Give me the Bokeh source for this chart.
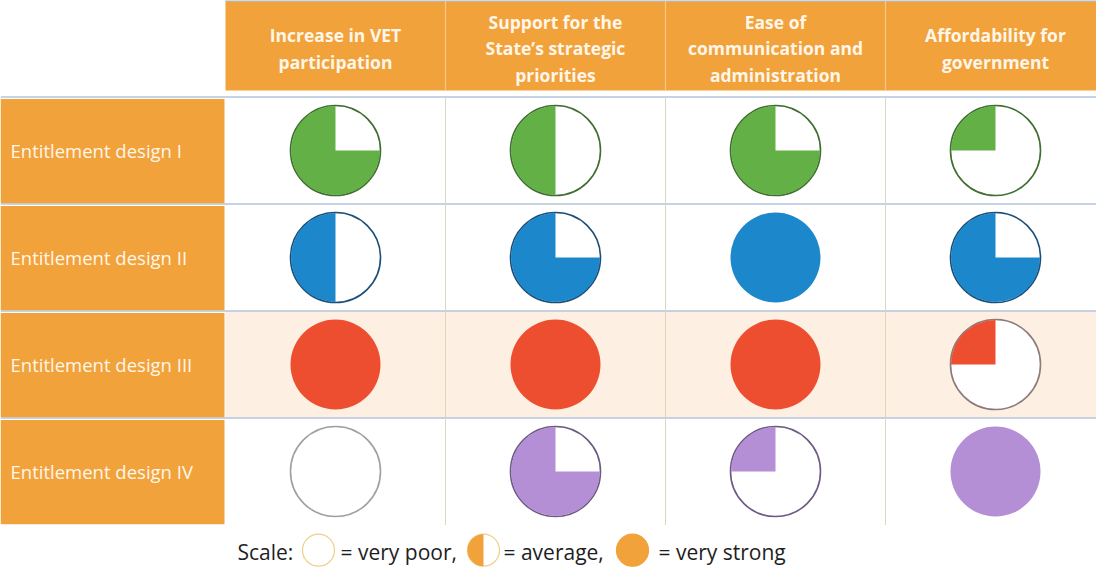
import math
from bokeh.plotting import figure
from bokeh.models import Range1d, ColumnDataSource
from bokeh.embed import file_html
from bokeh.resources import INLINE
from bokeh.core.properties import value

# ---------------- data ----------------
criteria = [
    "Increase in VET\nparticipation",
    "Support for the\nState\u2019s strategic\npriorities",
    "Ease of\ncommunication and\nadministration",
    "Affordability for\ngovernment",
]
designs = [
    "Entitlement design I",
    "Entitlement design II",
    "Entitlement design III",
    "Entitlement design IV",
]
scores_I = [0.75, 0.5, 0.75, 0.25]
scores_II = [0.5, 0.75, 1.0, 0.75]
scores_III = [1.0, 1.0, 1.0, 0.25]
scores_IV = [0.0, 0.75, 0.25, 1.0]
scores = [scores_I, scores_II, scores_III, scores_IV]

row_colors = ["#62b046", "#1d87cb", "#ee4e30", "#b48fd5"]
outline_colors = ["#3f6e30", "#1c4f78", "#8e7a7a", "#6d5a82"]

scale_levels = [0.0, 0.5, 1.0]
scale_labels = ["= very poor,", "= average,", "= very strong"]

ORANGE = "#f2a23a"
TEXT_LIGHT = "#fff6ea"
FONT = "Open Sans"

# ---------------- figure ----------------
W, H = 1096, 570
p = figure(width=W, height=H, output_backend="svg", toolbar_location=None,
           x_range=Range1d(-1.5227, 3.4591), y_range=Range1d(3.9252, -1.4019),
           min_border=0, background_fill_color="white", border_fill_color="white")
p.axis.visible = False
p.grid.visible = False
p.outline_line_color = None

ncol = len(criteria)
nrow = len(designs)
cols = list(range(ncol))
rows = list(range(nrow))

# highlighted row background (design III)
p.rect(x=[(ncol - 1) / 2], y=[2], width=[ncol], height=[1.0],
       fill_color="#fdf0e3", line_color=None)

# header band
p.quad(left=[-0.5], right=[ncol - 0.5], top=[-1.402], bottom=[-0.561],
       fill_color=ORANGE, line_color=None)
p.segment(x0=[-0.5], y0=[-1.398], x1=[ncol - 0.5], y1=[-1.398],
          line_color="#aabbd2", line_width=1.5)
# header separators
p.segment(x0=[c + 0.5 for c in cols[:-1]], y0=[-1.40] * (ncol - 1),
          x1=[c + 0.5 for c in cols[:-1]], y1=[-0.561] * (ncol - 1),
          line_color="#f7c88a", line_width=1.2)
# header texts
p.text(x=cols, y=[-0.955] * ncol, text=criteria,
       text_font=value(FONT), text_font_style="bold", text_font_size="17.5px",
       text_color=TEXT_LIGHT, text_align="center", text_baseline="middle",
       text_line_height=1.1)

# body grid lines
p.segment(x0=[-1.5227] * nrow, y0=[r - 0.5 for r in rows],
          x1=[ncol - 0.5] * nrow, y1=[r - 0.5 for r in rows],
          line_color="#b2c5dc", line_width=1.5)
p.segment(x0=[c + 0.5 for c in cols[:-1]], y0=[-0.5] * (ncol - 1),
          x1=[c + 0.5 for c in cols[:-1]], y1=[nrow - 0.5] * (ncol - 1),
          line_color="#dcd8bf", line_width=1)

# row label blocks
p.rect(x=[-1.0136] * nrow, y=[r + 0.005 for r in rows], width=[1.018] * nrow,
       height=[0.975] * nrow, fill_color=ORANGE, line_color=None)
p.text(x=[-1.477] * nrow, y=rows, text=designs,
       text_font=value(FONT), text_font_size="18.5px", text_color=TEXT_LIGHT,
       text_align="left", text_baseline="middle")

# Harvey balls
R = 45
cx, cy, sc, fc, lc = [], [], [], [], []
for r in rows:
    for c in cols:
        cx.append(c)
        cy.append(r)
        sc.append(scores[r][c])
        fc.append(row_colors[r])
        lc.append(outline_colors[r] if scores[r][c] > 0 else "#a0a0a0")

part = ColumnDataSource(dict(
    x=[x for x, s in zip(cx, sc) if s < 1],
    y=[y for y, s in zip(cy, sc) if s < 1],
    line=[l for l, s in zip(lc, sc) if s < 1],
))
full = ColumnDataSource(dict(
    x=[x for x, s in zip(cx, sc) if s >= 1],
    y=[y for y, s in zip(cy, sc) if s >= 1],
    fill=[f for f, s in zip(fc, sc) if s >= 1],
))
p.scatter(x="x", y="y", source=part, size=2 * R, marker="circle",
          fill_color="white", line_color="line", line_width=1.6)
wed = ColumnDataSource(dict(
    x=[x for x, s in zip(cx, sc) if 0 < s < 1],
    y=[y for y, s in zip(cy, sc) if 0 < s < 1],
    fill=[f for f, s in zip(fc, sc) if 0 < s < 1],
    start=[math.pi / 2 for s in sc if 0 < s < 1],
    end=[math.pi / 2 + 2 * math.pi * s for s in sc if 0 < s < 1],
))
p.wedge(x="x", y="y", radius=R - 0.5, radius_units="screen", start_angle="start",
        end_angle="end", direction="anticlock", source=wed,
        fill_color="fill", line_color=None)
p.scatter(x="x", y="y", source=full, size=2 * R, marker="circle",
          fill_color="fill", line_color=None)

# legend (scale)
LY = 3.748
CY = 3.735
p.text(x=[-0.4455], y=[LY], text=["Scale:"], text_font=value(FONT),
       text_font_size="21px", text_color="#1e1e1e", text_baseline="middle")
leg_x = [-0.0773, 0.6727, 1.35]
lab_x = [0.0227, 0.7636, 1.468]
LR = 16
p.scatter(x=leg_x, y=[CY] * 3, size=2 * LR, marker="circle",
          fill_color=["white", "white", ORANGE],
          line_color=["#efcf8e", "#efcf8e", ORANGE], line_width=1.2)
half = [x for x, s in zip(leg_x, scale_levels) if 0 < s < 1]
p.wedge(x=half, y=[CY] * len(half), radius=LR, radius_units="screen",
        start_angle=math.pi / 2,
        end_angle=[math.pi / 2 + 2 * math.pi * s for s in scale_levels if 0 < s < 1],
        direction="anticlock", fill_color=ORANGE, line_color=None)
p.text(x=lab_x, y=[LY] * 3, text=scale_labels, text_font=value(FONT),
       text_font_size="21px", text_color="#1e1e1e", text_baseline="middle")

open("out.html", "w").write(file_html(p, INLINE))
